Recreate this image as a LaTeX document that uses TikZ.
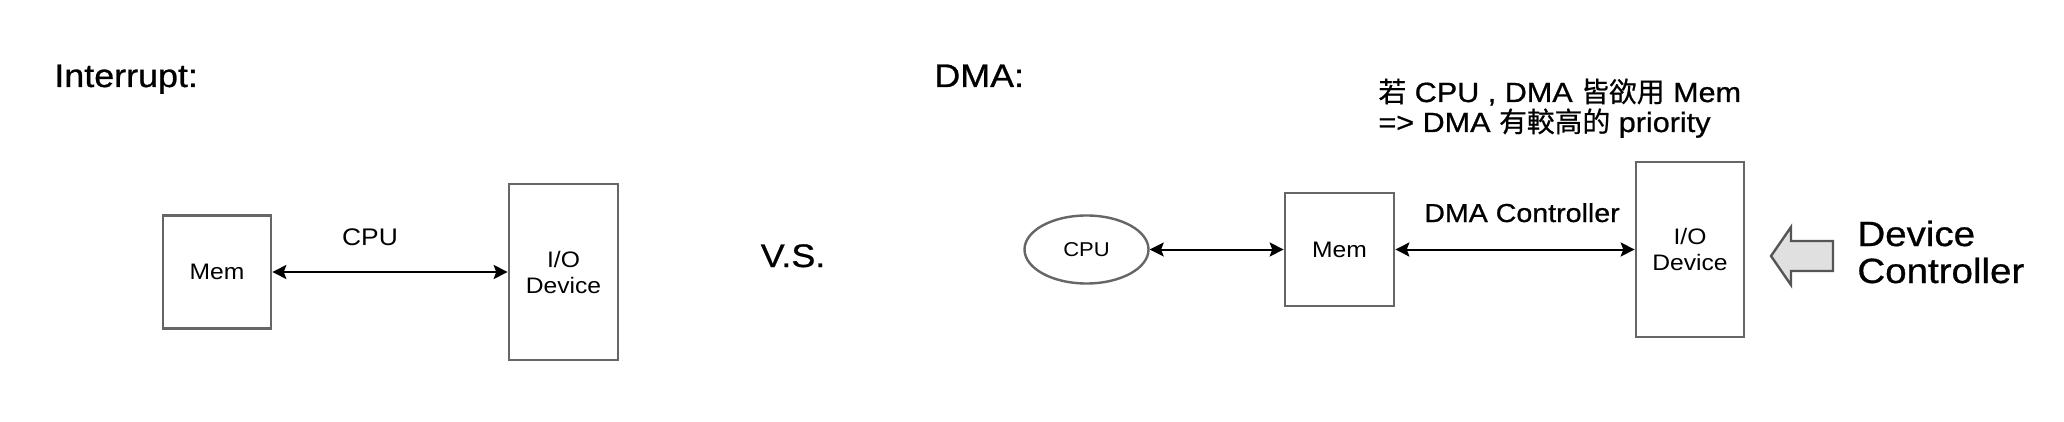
\documentclass[tikz,border=0pt]{standalone}
\usepackage{fontspec}
\setmainfont[FakeStretch=1.1]{Liberation Sans}
\newfontfamily\med[FakeStretch=1.1,FakeBold=0.8]{Liberation Sans}
\newfontfamily\cjk[FakeBold=0.6]{Noto Sans CJK TC}
\usetikzlibrary{arrows.meta,shapes.geometric}
\definecolor{boxgray}{HTML}{666666}
\definecolor{arrowfill}{HTML}{E0E0E0}
\definecolor{arrowline}{HTML}{555555}
\tikzset{
  blk/.style={draw=boxgray, line width=1.35pt, fill=white, inner sep=0pt, align=center,
    font=\fontsize{11.2pt}{13pt}\selectfont},
  oval/.style={ellipse, draw=boxgray, line width=1.2pt, inner sep=0pt,
    font=\fontsize{10pt}{12pt}\selectfont},
  link/.style={line width=1pt, {Stealth[length=7pt,width=7pt,inset=1.3pt]}-{Stealth[length=7pt,width=7pt,inset=1.3pt]}},
  title/.style={anchor=base west, inner sep=0pt, font=\med\fontsize{16.3pt}{19pt}\selectfont},
  lbl/.style={anchor=base, inner sep=0pt, font=\fontsize{12pt}{14pt}\selectfont},
  note/.style={anchor=base west, inner sep=0pt, font=\med\fontsize{13.9pt}{15pt}\selectfont},
}
\begin{document}
\begin{tikzpicture}[x=0.5pt,y=-0.5pt]
\useasboundingbox (0,0) rectangle (2064,422);
% titles
\node[title] (tint) at (54,87) {Interrupt:};
\node[title] (tdma) at (934,87) {DMA:};
\node[title, anchor=base] (vs) at (793,267) {V.S.};
% interrupt part
\node[blk, minimum width=54pt, minimum height=56.5pt] (mem1) at (217,272) {Mem};
\node[blk, minimum width=54.5pt, minimum height=88pt] (io1) at (563.5,272) {I/O\\Device};
\draw[link] (mem1) -- (io1);
\node[lbl] (cpulbl) at (370,245) {CPU};
% DMA part
\node[oval, minimum width=62pt, minimum height=34pt] (cpu) at (1086.5,249.5) {CPU};
\node[blk, minimum width=54.5pt, minimum height=56.5pt] (mem2) at (1339.5,249.5) {Mem};
\node[blk, minimum width=54pt, minimum height=87.5pt] (io2) at (1690,249.5) {I/O\\Device};
\draw[link] (cpu) -- (mem2);
\draw[link] (mem2) -- (io2);
\node[lbl, font=\med\fontsize{13pt}{15pt}\selectfont] (dmalbl) at (1522,222) {DMA Controller};
% note
\node[note] (note1) at (1378,102) {{\cjk 若} CPU , DMA {\cjk 皆欲用} Mem};
\node[note] (note2) at (1378,132) {=> DMA {\cjk 有較高的} priority};
% device controller arrow
\draw[draw=arrowline, fill=arrowfill, line width=1.2pt, line join=miter]
  (1771,256) -- (1791,227) -- (1791,241) -- (1833,241) -- (1833,271) -- (1791,271) -- (1791,285) -- cycle;
\node[note, font=\med\fontsize{17.5pt}{18.5pt}\selectfont] (dc1) at (1857,246) {Device};
\node[note, font=\med\fontsize{17.5pt}{18.5pt}\selectfont] (dc2) at (1857,283) {Controller};
\end{tikzpicture}
\end{document}
